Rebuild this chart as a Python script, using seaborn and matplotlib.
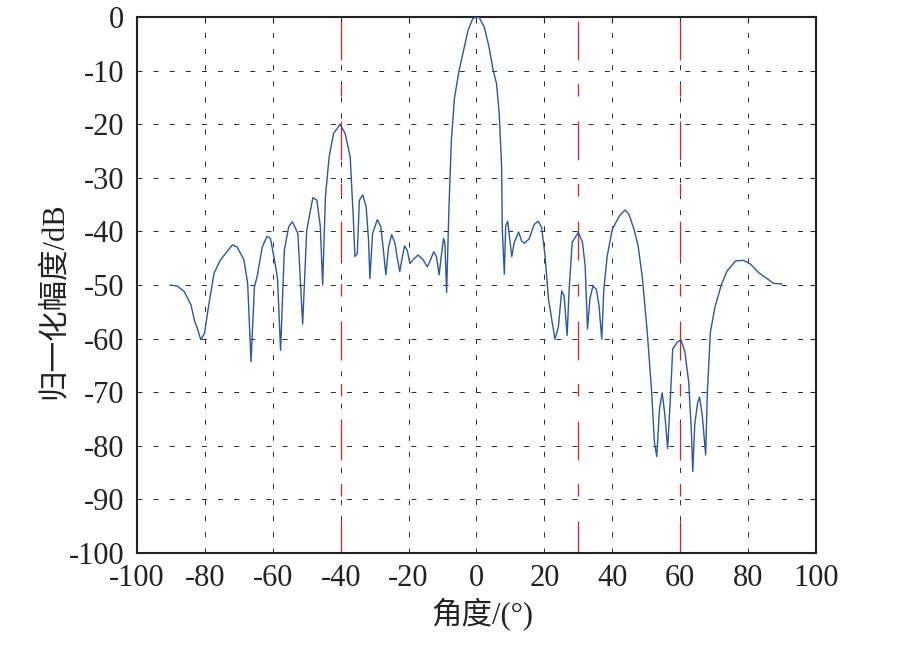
import seaborn as sns
import matplotlib.pyplot as plt
import pandas as pd

# Direction pattern: angle (deg) vs normalised gain (dB)
angle = [
    -90.2, -88.1, -86.1, -84.1, -83.0, -82.2, -81.2, -80.1, -79.1, -77.3,
    -75.4, -71.9, -70.5, -68.5, -67.4, -66.4, -65.4, -64.6, -63.1, -61.7,
    -60.7, -59.5, -58.6, -57.7, -56.6, -55.3, -54.2, -52.6, -51.2, -50.0,
    -48.2, -47.0, -46.0, -45.3, -44.5, -43.4, -42.1, -41.0, -40.2, -38.7,
    -37.2, -36.3, -35.8, -35.1, -34.5, -33.5, -32.5, -31.8, -31.4, -30.6,
    -29.2, -28.2, -27.5, -26.7, -25.9, -25.0, -24.0, -23.4, -22.6, -22.0,
    -21.2, -20.4, -19.6, -18.7, -17.2, -15.7, -14.5, -13.8, -12.6, -11.8,
    -11.0, -10.4, -9.7, -9.3, -8.8, -8.1, -7.4, -6.5, -5.2, -4.0,
    -2.5, -1.1, 0.0, 0.8, 2.3, 3.7, 4.9, 5.9, 6.7, 7.4,
    7.6, 8.2, 8.6, 9.2, 9.8, 10.4, 11.1, 12.4, 13.3, 14.1,
    15.5, 17.0, 18.2, 19.2, 20.2, 21.2, 21.9, 23.1, 24.1, 25.1,
    25.8, 26.7, 27.3, 28.2, 30.0, 31.2, 32.0, 32.7, 33.4, 34.3,
    35.3, 36.1, 36.9, 37.5, 38.5, 40.0, 42.0, 43.7, 44.9, 46.4,
    47.6, 48.8, 50.3, 51.6, 52.4, 53.1, 53.9, 54.7, 55.5, 56.3,
    57.1, 57.8, 59.1, 60.2, 61.4, 62.5, 63.3, 63.7, 64.3, 65.1,
    65.7, 66.5, 67.5, 68.0, 68.9, 70.2, 71.2, 72.2, 73.8, 76.3,
    78.7, 80.7, 83.1, 85.6, 87.5, 90.0,
]
gain_db = [
    -50.0, -50.2, -51.2, -53.7, -56.8, -58.1, -60.2, -59.0, -54.7, -47.8,
    -45.3, -42.5, -42.9, -45.3, -49.7, -64.3, -50.3, -48.4, -42.9, -40.9,
    -41.3, -45.3, -48.8, -62.2, -43.5, -39.1, -38.2, -40.4, -57.3, -39.8,
    -33.7, -34.2, -39.1, -50.0, -33.5, -26.1, -21.7, -20.8, -20.0, -21.7,
    -26.1, -37.3, -44.7, -44.1, -34.2, -33.2, -35.4, -41.6, -48.8, -40.4,
    -37.8, -39.1, -42.9, -48.1, -42.9, -40.6, -42.2, -44.7, -47.5, -45.3,
    -42.7, -43.5, -46.0, -45.3, -44.4, -45.3, -46.6, -45.7, -43.8, -44.7,
    -48.1, -44.7, -41.3, -42.2, -51.4, -35.4, -23.0, -15.2, -10.2, -6.8,
    -2.5, -0.3, 0.0, -0.1, -1.9, -5.6, -9.9, -12.4, -18.0, -27.9,
    -39.6, -48.0, -39.0, -38.1, -41.5, -44.7, -42.1, -40.1, -41.8, -42.2,
    -41.4, -38.7, -38.1, -39.3, -44.6, -52.6, -55.4, -60.1, -57.9, -51.1,
    -52.0, -59.4, -50.7, -42.0, -40.2, -42.0, -46.4, -58.2, -52.6, -50.2,
    -50.8, -53.9, -60.1, -50.8, -44.6, -39.6, -37.2, -36.0, -36.8, -39.6,
    -42.7, -48.3, -58.8, -70.0, -79.3, -82.0, -73.1, -70.1, -74.3, -80.5,
    -71.2, -61.9, -60.7, -60.2, -62.5, -68.1, -77.4, -84.8, -75.9, -72.1,
    -70.9, -74.3, -81.7, -70.0, -58.8, -54.2, -52.0, -49.8, -47.4, -45.5,
    -45.4, -46.1, -47.7, -48.8, -49.7, -49.8,
]
# Signal directions marked with red dash-dot lines
ref_angles = [-40, 30, 60]

x_ticks = list(range(-100, 101, 20))
y_ticks = list(range(-100, 1, 10))

df = pd.DataFrame({"angle": angle, "gain": gain_db})

sns.set_style("white")
plt.rcParams["font.family"] = ["Liberation Serif", "Noto Sans CJK SC"]
plt.rcParams["lines.scale_dashes"] = False

fig = plt.figure(figsize=(8.97, 6.52), dpi=100)
ax = fig.add_axes([0.1527, 0.1518, 0.757, 0.8221])

# MATLAB-style dashed grid
for t in x_ticks:
    ax.axvline(t, color="#2a2a2a", lw=0.7, linestyle=(0, (3.6, 8)), zorder=1)
for t in y_ticks:
    ax.axhline(t, color="#2a2a2a", lw=0.7, linestyle=(0, (3.6, 8)), zorder=1)

for a in ref_angles:
    ax.axvline(a, color="#e0202a", lw=0.9, linestyle=(5, (28, 18, 9, 17)), zorder=2)

sns.lineplot(data=df, x="angle", y="gain", color="#2b57a3", lw=1.0,
             sort=False, ax=ax, zorder=3)

ax.set_xlim(-100, 100)
ax.set_ylim(-100, 0)
ax.set_xticks(x_ticks)
ax.set_yticks(y_ticks)
ax.set_xticklabels([str(t) for t in x_ticks])
ax.set_yticklabels([str(t) for t in y_ticks])
ax.tick_params(direction="in", length=4, width=0.8, colors="#222222",
               labelsize=22, top=True, right=True)
ax.tick_params(axis="y", pad=9)
ax.tick_params(axis="x", pad=8)
for s in ax.spines.values():
    s.set_color("#222222")
    s.set_linewidth(1.5)

ax.set_xlabel("角度/(°)", fontsize=22, color="#222222")
ax.set_ylabel("归一化幅度/dB", fontsize=22, color="#222222")
ax.xaxis.set_label_coords(0.508, -0.082)
ax.yaxis.set_label_coords(-0.100, 0.47)

fig.savefig("out.png", dpi=100)
